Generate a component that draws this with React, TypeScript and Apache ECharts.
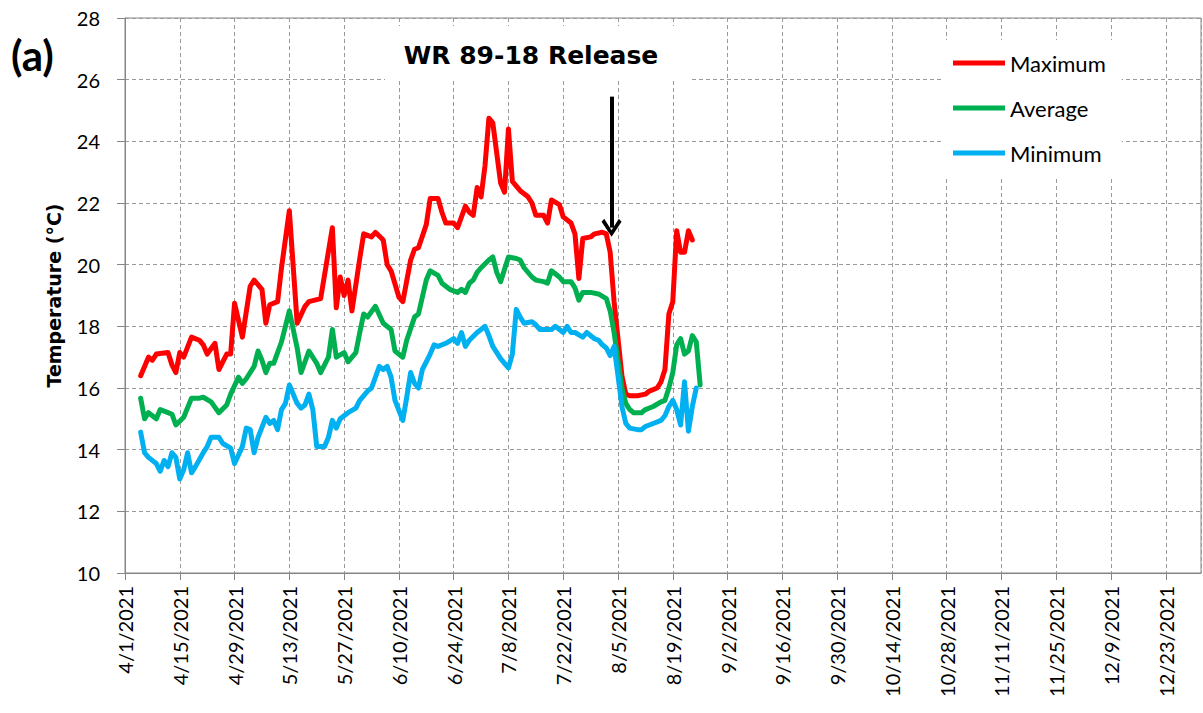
import React, { useEffect, useRef } from 'react';
import * as echarts from 'echarts';

// ---- data ----
const maxDates = ['4/5','4/7','4/8','4/9','4/12','4/13','4/14','4/15','4/16','4/18','4/20','4/21','4/22','4/24','4/25','4/27','4/28','4/29','5/1','5/3','5/4','5/6','5/7','5/8','5/10','5/11','5/13','5/15','5/17','5/18','5/21','5/24','5/25','5/26','5/27','5/28','5/29','5/31','6/1','6/3','6/4','6/6','6/7','6/8','6/10','6/11','6/13','6/14','6/15','6/17','6/18','6/20','6/21','6/22','6/24','6/25','6/27','6/28','6/29','6/30','7/1','7/2','7/3','7/4','7/6','7/7','7/8','7/9','7/11','7/13','7/14','7/15','7/17','7/18','7/19','7/21','7/22','7/24','7/25','7/26','7/27','7/29','7/30','8/1','8/2','8/3','8/4','8/5','8/6','8/7','8/8','8/10','8/12','8/13','8/15','8/16','8/17','8/18','8/19','8/20','8/21','8/22','8/23','8/24'];
const maxValues = [16.4,17.0,16.9,17.1,17.15,16.75,16.5,17.15,17.0,17.65,17.55,17.4,17.1,17.45,16.6,17.1,17.1,18.75,17.65,19.3,19.5,19.2,18.1,18.7,18.8,19.9,21.75,18.1,18.65,18.8,18.9,21.2,18.6,19.6,19.0,19.5,18.5,20.2,21.0,20.9,21.05,20.8,20.0,19.8,18.95,18.8,20.15,20.5,20.55,21.3,22.15,22.15,21.7,21.35,21.35,21.2,21.9,21.7,21.6,22.5,22.2,23.2,24.75,24.6,22.65,22.35,24.4,22.7,22.4,22.2,22.0,21.6,21.6,21.35,22.1,21.95,21.55,21.35,21.0,19.55,20.85,20.9,21.0,21.05,21.0,20.4,18.8,17.6,16.4,15.8,15.75,15.75,15.8,15.9,16.0,16.2,16.6,18.4,18.8,21.1,20.4,20.4,21.1,20.8];

const avgDates = ['4/5','4/6','4/7','4/9','4/10','4/12','4/13','4/14','4/16','4/18','4/20','4/21','4/23','4/25','4/27','4/28','4/30','5/1','5/2','5/4','5/5','5/6','5/7','5/8','5/9','5/11','5/12','5/13','5/15','5/16','5/18','5/20','5/21','5/23','5/24','5/25','5/27','5/28','5/30','5/31','6/1','6/2','6/4','6/6','6/8','6/9','6/11','6/12','6/14','6/15','6/16','6/17','6/18','6/20','6/21','6/23','6/25','6/26','6/27','6/28','6/29','6/30','7/1','7/3','7/4','7/5','7/6','7/8','7/10','7/11','7/12','7/14','7/15','7/17','7/18','7/19','7/21','7/22','7/24','7/25','7/26','7/27','7/29','7/31','8/2','8/3','8/4','8/5','8/6','8/7','8/8','8/9','8/11','8/12','8/14','8/16','8/17','8/18','8/19','8/20','8/21','8/22','8/23','8/24','8/25','8/26'];
const avgValues = [15.67,15.0,15.2,15.0,15.3,15.2,15.15,14.8,15.05,15.67,15.67,15.7,15.55,15.2,15.45,15.8,16.35,16.15,16.3,16.7,17.2,16.9,16.5,16.8,16.8,17.5,18.0,18.5,17.3,16.5,17.2,16.8,16.5,17.0,17.9,17.0,17.15,16.85,17.15,17.8,18.4,18.3,18.65,18.1,17.9,17.2,17.0,17.55,18.3,18.4,18.95,19.5,19.8,19.65,19.4,19.2,19.1,19.2,19.1,19.4,19.5,19.75,19.9,20.15,20.25,19.75,19.45,20.25,20.2,20.15,19.9,19.6,19.5,19.45,19.4,19.8,19.6,19.45,19.45,19.25,18.85,19.1,19.1,19.05,18.9,18.5,17.8,16.9,16.0,15.5,15.3,15.2,15.2,15.3,15.4,15.55,15.6,16.0,16.5,17.4,17.6,17.1,17.2,17.7,17.5,16.1];

const minDates = ['4/5','4/6','4/7','4/9','4/10','4/11','4/12','4/13','4/14','4/15','4/16','4/17','4/18','4/19','4/21','4/22','4/23','4/25','4/26','4/28','4/29','5/1','5/2','5/3','5/4','5/5','5/7','5/8','5/9','5/10','5/11','5/12','5/13','5/15','5/16','5/17','5/18','5/19','5/20','5/22','5/23','5/24','5/25','5/26','5/28','5/30','5/31','6/2','6/3','6/5','6/6','6/7','6/8','6/9','6/11','6/12','6/13','6/14','6/15','6/16','6/18','6/19','6/20','6/22','6/24','6/25','6/26','6/27','6/28','6/30','7/1','7/2','7/3','7/4','7/6','7/7','7/8','7/9','7/10','7/11','7/12','7/14','7/15','7/16','7/19','7/20','7/22','7/23','7/24','7/25','7/27','7/28','7/30','7/31','8/1','8/2','8/3','8/4','8/5','8/6','8/7','8/8','8/10','8/11','8/12','8/14','8/16','8/17','8/18','8/19','8/20','8/21','8/22','8/23','8/24','8/25'];
const minValues = [14.57,13.9,13.75,13.55,13.3,13.65,13.45,13.9,13.75,13.05,13.35,13.9,13.25,13.45,13.9,14.1,14.4,14.4,14.2,14.05,13.55,14.1,14.7,14.65,13.9,14.4,15.05,14.85,14.95,14.65,15.3,15.5,16.1,15.5,15.35,15.45,15.8,15.3,14.1,14.1,14.4,14.95,14.7,15.0,15.2,15.35,15.6,15.9,16.0,16.7,16.6,16.7,16.35,15.6,14.95,15.7,16.5,16.15,16.0,16.6,17.1,17.4,17.35,17.45,17.6,17.45,17.8,17.35,17.55,17.8,17.9,18.0,17.7,17.35,16.95,16.8,16.65,17.1,18.55,18.3,18.1,18.15,18.05,17.9,17.9,18.0,17.8,18.0,17.8,17.8,17.65,17.8,17.6,17.55,17.4,17.3,17.05,17.35,16.4,15.4,14.85,14.7,14.65,14.65,14.75,14.85,14.95,15.1,15.4,15.6,15.3,14.8,16.2,14.6,15.4,16.0];

const seriesNames = ['Maximum', 'Average', 'Minimum'];
const seriesColors = ['#FF0000', '#00B050', '#00B0F0'];

const yTicks = { min: 10, max: 28, step: 2 };
const xTickStepDays = 14;
const xEndDay = 275; // 4/1/2021 + 275 days

const titleText = 'WR 89-18 Release';
const panelLabel = '(a)';
const yAxisTitle = 'Temperature (°C)';
const arrowDate = '8/3';
const arrowDayFraction = 0.35;
const arrowTop = 25.45;
const arrowEnd = 21.2;

// ---- helpers ----
const START = Date.UTC(2021, 3, 1);
const DAY = 86400000;
const toDay = (md: string) => {
  const [m, d] = md.split('/').map(Number);
  return Math.round((Date.UTC(2021, m - 1, d) - START) / DAY);
};
const dayLabel = (n: number) => {
  const dt = new Date(START + n * DAY);
  return `${dt.getUTCMonth() + 1}/${dt.getUTCDate()}/${dt.getUTCFullYear()}`;
};
const pair = (dates: string[], vals: number[]) => dates.map((d, i) => [toDay(d), vals[i]]);

const chevron = 'path://M10,0 L20,15 L17.3,18 L10,6.5 L2.7,18 L0,15 Z';

export default function App() {
  const ref = useRef<HTMLDivElement>(null);
  useEffect(() => {
    if (!ref.current) return;
    const chart = echarts.init(ref.current, undefined, { renderer: 'svg' });
    const font = 'Lato';
    const gridColor = '#9a9a9a';
    const axisColor = '#868686';
    const datasets = [pair(maxDates, maxValues), pair(avgDates, avgValues), pair(minDates, minValues)];
    const arrowX = toDay(arrowDate) + arrowDayFraction;

    chart.setOption({
      animation: false,
      backgroundColor: '#ffffff',
      grid: {
        left: 125, right: 2, top: 18, bottom: 140,
        show: true, borderColor: axisColor, borderWidth: 1, backgroundColor: 'transparent',
      },
      legend: {
        data: seriesNames,
        orient: 'vertical',
        left: 943,
        top: 40,
        backgroundColor: '#ffffff',
        padding: [12, 16, 14, 10],
        itemWidth: 52,
        itemHeight: 5,
        itemGap: 23,
        icon: 'rect',
        textStyle: { fontFamily: font, fontSize: 22, color: '#000' },
      },
      xAxis: {
        type: 'value',
        min: 0,
        max: xEndDay,
        interval: xTickStepDays,
        axisLine: { show: true, lineStyle: { color: axisColor, width: 1 } },
        axisTick: { show: true, length: 7, lineStyle: { color: axisColor } },
        axisLabel: {
          rotate: 90,
          margin: 13,
          fontFamily: font,
          fontSize: 20,
          color: '#000',
          showMaxLabel: false,
          formatter: (v: number) => (v % xTickStepDays === 0 ? dayLabel(v) : ''),
        },
        splitLine: { show: true, lineStyle: { color: gridColor, type: [4, 3], width: 1 } },
      },
      yAxis: {
        type: 'value',
        min: yTicks.min,
        max: yTicks.max,
        interval: yTicks.step,
        name: yAxisTitle,
        nameLocation: 'middle',
        nameGap: 62,
        nameTextStyle: { fontFamily: 'DejaVu Sans', fontSize: 19, fontWeight: 'bold', color: '#000' },
        axisLine: { show: true, lineStyle: { color: axisColor, width: 1 } },
        axisTick: { show: true, length: 8, lineStyle: { color: axisColor } },
        axisLabel: { margin: 25, fontFamily: font, fontSize: 20, color: '#000' },
        splitLine: { show: true, lineStyle: { color: gridColor, type: [4, 3], width: 1 } },
      },
      graphic: [
        {
          type: 'text', z: 10, x: 11, y: 34,
          style: { text: panelLabel, fontFamily: font, fontWeight: 'bold', fontSize: 42, fill: '#000' },
        },
        {
          type: 'rect', z: 10,
          shape: { x: 385, y: 26, width: 305, height: 54 },
          style: { fill: '#ffffff' },
        },
        {
          type: 'text', z: 11, x: 531, y: 55,
          style: {
            text: titleText, fontFamily: 'DejaVu Sans', fontWeight: 'bold', fontSize: 25,
            fill: '#000', align: 'center', verticalAlign: 'middle',
          },
        },
      ],
      series: seriesNames.map((name, i) => ({
        name,
        type: 'line',
        data: datasets[i],
        showSymbol: false,
        symbol: 'none',
        color: seriesColors[i],
        lineStyle: { width: 5, color: seriesColors[i], join: 'round', cap: 'round' },
        z: 3 + i,
        markLine: i === 0 ? {
          silent: true,
          symbol: ['none', chevron],
          symbolSize: [20, 18],
          label: { show: false },
          lineStyle: { color: '#000', width: 4, type: 'solid' },
          itemStyle: { color: '#000' },
          data: [[{ coord: [arrowX, arrowTop] }, { coord: [arrowX, arrowEnd] }]],
        } : undefined,
      })),
    });
    return () => chart.dispose();
  }, []);
  return <div ref={ref} style={{ position: 'absolute', left: 0, top: 0, width: 1203, height: 713 }} />;
}
